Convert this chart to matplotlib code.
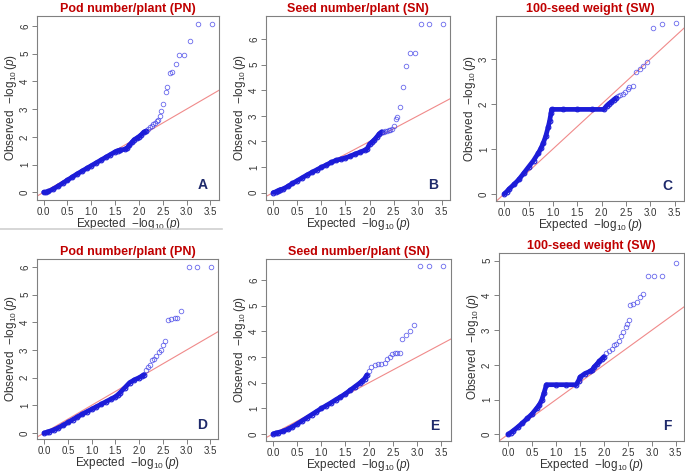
import matplotlib
matplotlib.use("Agg")
import matplotlib.pyplot as plt
from matplotlib.lines import Line2D

plt.rcParams["font.family"] = ["Liberation Sans", "DejaVu Sans"]
plt.rcParams["mathtext.fontset"] = "custom"
plt.rcParams["mathtext.rm"] = "Liberation Sans"
plt.rcParams["mathtext.it"] = "Liberation Sans:italic"

TITLE_COLOR = "#C00000"
LETTER_COLOR = "#1F2A6B"
POINT_COLOR = "#4444E8"
BODY_COLOR = "#1C1CD8"
LINE_COLOR = "#F08A8A"
AXIS_COLOR = "#808080"
TEXT_COLOR = "#333333"

titles = ["Pod number/plant (PN)", "Seed number/plant (SN)", "100-seed weight (SW)",
          "Pod number/plant (PN)", "Seed number/plant (SN)", "100-seed weight (SW)"]
letters = ["A", "B", "C", "D", "E", "F"]
x_ticks = [0.0, 0.5, 1.0, 1.5, 2.0, 2.5, 3.0, 3.5]
y_ticks = [range(0, 7), range(0, 7), range(0, 4), range(0, 7), range(0, 7), range(0, 6)]

# dense part of each QQ curve (expected, observed)
a_body_x = [0, 0.05, 0.1, 0.2, 0.3, 0.4, 0.5, 0.6, 0.7, 0.8, 0.9, 1.0, 1.1, 1.2, 1.3, 1.4, 1.5,
            1.55, 1.6, 1.7, 1.75, 1.8, 1.85, 1.9, 1.95, 2.0, 2.05, 2.1, 2.15]
a_body_y = [0, 0.0, 0.03, 0.12, 0.22, 0.33, 0.44, 0.55, 0.66, 0.76, 0.86, 0.96, 1.06, 1.16, 1.26,
            1.36, 1.46, 1.50, 1.52, 1.55, 1.60, 1.70, 1.80, 1.90, 1.95, 2.01, 2.08, 2.17, 2.21]
b_body_x = [0, 0.05, 0.1, 0.15, 0.2, 0.3, 0.4, 0.5, 0.6, 0.7, 0.8, 0.9, 1.0, 1.1, 1.2, 1.3, 1.4,
            1.5, 1.6, 1.7, 1.8, 1.9, 1.95, 2.0, 2.05, 2.1, 2.15, 2.2, 2.25]
b_body_y = [0, 0.03, 0.08, 0.12, 0.14, 0.24, 0.36, 0.47, 0.58, 0.69, 0.79, 0.89, 0.99, 1.08, 1.18,
            1.26, 1.31, 1.36, 1.43, 1.51, 1.58, 1.66, 1.72, 1.90, 1.98, 2.07, 2.18, 2.30, 2.38]
c_body_x = [0, 0.05, 0.1, 0.2, 0.3, 0.4, 0.5, 0.6, 0.7, 0.75, 0.8, 0.85, 0.9, 0.93, 0.96, 0.97,
            1.2, 1.5, 1.8, 2.04, 2.1, 2.15, 2.2, 2.25, 2.3]
c_body_y = [0, 0.05, 0.11, 0.21, 0.32, 0.46, 0.60, 0.74, 0.91, 1.01, 1.13, 1.28, 1.48, 1.62, 1.80,
            1.88, 1.88, 1.88, 1.88, 1.88, 1.96, 2.01, 2.05, 2.10, 2.14]
d_body_x = [0, 0.05, 0.1, 0.2, 0.3, 0.4, 0.5, 0.6, 0.7, 0.8, 0.9, 1.0, 1.1, 1.2, 1.3, 1.4, 1.5,
            1.55, 1.6, 1.7, 1.8, 1.9, 2.0, 2.05, 2.1]
d_body_y = [0, 0.02, 0.05, 0.11, 0.19, 0.28, 0.38, 0.48, 0.58, 0.68, 0.77, 0.86, 0.95, 1.04, 1.13,
            1.22, 1.31, 1.38, 1.46, 1.64, 1.82, 1.92, 2.00, 2.05, 2.11]
e_body_x = [0, 0.05, 0.1, 0.2, 0.3, 0.4, 0.5, 0.6, 0.7, 0.8, 0.9, 1.0, 1.1, 1.2, 1.3, 1.4, 1.5,
            1.6, 1.7, 1.8, 1.85, 1.9, 1.95]
e_body_y = [0, 0.03, 0.05, 0.10, 0.18, 0.28, 0.39, 0.51, 0.63, 0.75, 0.87, 0.99, 1.10, 1.21, 1.33,
            1.44, 1.56, 1.70, 1.84, 1.98, 2.06, 2.15, 2.30]
f_body_x = [0, 0.05, 0.1, 0.2, 0.3, 0.4, 0.5, 0.6, 0.65, 0.7, 0.75, 0.8, 1.0, 1.2, 1.42, 1.47,
            1.5, 1.6, 1.7, 1.75, 1.8, 1.85, 1.9, 1.95, 2.0]
f_body_y = [0, 0.05, 0.10, 0.21, 0.33, 0.46, 0.59, 0.76, 0.85, 0.98, 1.20, 1.43, 1.43, 1.43, 1.43,
            1.55, 1.65, 1.75, 1.81, 1.85, 1.95, 2.02, 2.10, 2.17, 2.24]

# sparse upper tail (expected, observed)
a_tail_x = [3.54, 3.24, 3.07, 2.94, 2.85, 2.77, 2.70, 2.65, 2.59, 2.56, 2.51, 2.47, 2.44, 2.41,
            2.38, 2.34, 2.30, 2.27, 2.23, 2.19]
a_tail_y = [6.07, 6.07, 5.47, 4.95, 4.95, 4.63, 4.34, 4.31, 3.80, 3.62, 3.20, 2.92, 2.75, 2.62,
            2.57, 2.50, 2.45, 2.39, 2.34, 2.27]
b_tail_x = [3.53, 3.23, 3.06, 2.94, 2.83, 2.76, 2.70, 2.63, 2.58, 2.55, 2.51, 2.47, 2.43, 2.40,
            2.36, 2.33, 2.29]
b_tail_y = [6.60, 6.60, 6.60, 5.48, 5.48, 4.97, 4.12, 3.35, 2.95, 2.87, 2.61, 2.48, 2.45, 2.43,
            2.42, 2.40, 2.39]
c_tail_x = [3.53, 3.23, 3.06, 2.94, 2.85, 2.78, 2.70, 2.64, 2.57, 2.53, 2.48, 2.44, 2.38, 2.34]
c_tail_y = [3.81, 3.78, 3.69, 2.93, 2.84, 2.79, 2.71, 2.39, 2.37, 2.33, 2.27, 2.23, 2.20, 2.17]
d_tail_x = [3.52, 3.22, 3.05, 2.89, 2.80, 2.75, 2.68, 2.61, 2.55, 2.50, 2.45, 2.41, 2.36, 2.32,
            2.28, 2.22, 2.18, 2.14]
d_tail_y = [6.01, 6.01, 6.01, 4.42, 4.14, 4.14, 4.12, 4.08, 3.31, 3.18, 3.01, 2.92, 2.77, 2.66,
            2.62, 2.46, 2.38, 2.28]
e_tail_x = [3.54, 3.24, 3.05, 2.94, 2.85, 2.76, 2.69, 2.64, 2.58, 2.53, 2.48, 2.43, 2.37, 2.32,
            2.25, 2.18, 2.11, 2.04, 1.99]
e_tail_y = [6.53, 6.53, 6.53, 4.26, 4.00, 3.85, 3.68, 3.17, 3.17, 3.17, 3.10, 3.00, 2.91, 2.78,
            2.74, 2.72, 2.68, 2.59, 2.45]
f_tail_x = [3.51, 3.22, 3.04, 2.92, 2.82, 2.75, 2.68, 2.60, 2.55, 2.52, 2.48, 2.45, 2.40, 2.36,
            2.31, 2.26, 2.21, 2.16, 2.10, 2.05]
f_tail_y = [4.92, 4.56, 4.56, 4.56, 4.04, 3.96, 3.82, 3.75, 3.73, 3.28, 3.18, 3.09, 2.94, 2.82,
            2.70, 2.61, 2.56, 2.47, 2.40, 2.34]

body_x = [a_body_x, b_body_x, c_body_x, d_body_x, e_body_x, f_body_x]
body_y = [a_body_y, b_body_y, c_body_y, d_body_y, e_body_y, f_body_y]
tail_x = [a_tail_x, b_tail_x, c_tail_x, d_tail_x, e_tail_x, f_tail_x]
tail_y = [a_tail_y, b_tail_y, c_tail_y, d_tail_y, e_tail_y, f_tail_y]

# axes boxes in pixels: left, top, right, bottom
BOXES = [(37, 16, 219, 200), (266, 16, 450, 200), (496, 16, 684, 201),
         (37, 259, 218, 439), (266, 259, 451, 441), (499, 253, 684, 441)]
XLIMS = [(-0.14, 3.68), (-0.15, 3.67), (-0.17, 3.69), (-0.15, 3.66), (-0.15, 3.70), (-0.19, 3.67)]
YLIMS = [(-0.28, 6.36), (-0.29, 6.91), (-0.16, 3.96), (-0.22, 6.29), (-0.28, 6.82), (-0.19, 5.22)]

W, H = 685, 473


def plot_panel(fig, i):
    left, top, right, bottom = BOXES[i]
    ax = fig.add_axes([left / W, 1 - bottom / H, (right - left) / W, (bottom - top) / H])

    ax.axline((0, 0), slope=1, color=LINE_COLOR, lw=0.8, zorder=1)
    ax.plot(body_x[i], body_y[i], color=BODY_COLOR, lw=3.4, solid_capstyle="round", zorder=2)
    ax.plot(body_x[i], body_y[i], ls="none", marker="o", ms=3.4, mfc="none", mec=BODY_COLOR,
            mew=0.8, zorder=3)
    ax.plot(tail_x[i], tail_y[i], ls="none", marker="o", ms=3.3, mfc="none", mec=POINT_COLOR,
            mew=0.6, alpha=0.8, zorder=3)

    ax.set_xlim(*XLIMS[i])
    ax.set_ylim(*YLIMS[i])
    ax.set_xticks(x_ticks)
    ax.set_xticklabels([f"{t:.1f}" for t in x_ticks])
    ax.set_yticks(list(y_ticks[i]))
    ax.tick_params(axis="both", direction="out", length=3.5, width=0.7, color=AXIS_COLOR,
                   labelsize=7, labelcolor=TEXT_COLOR, pad=1.5)
    for lab in ax.get_yticklabels():
        lab.set_rotation(90)
        lab.set_va("center")
    for spine in ax.spines.values():
        spine.set_color(AXIS_COLOR)
        spine.set_linewidth(0.8)

    ax.set_xlabel(r"Expected  $-\log_{10}(p)$", fontsize=8.5, color=TEXT_COLOR, labelpad=-1)
    ax.set_ylabel(r"Observed  $-\log_{10}(p)$", fontsize=8.5, color=TEXT_COLOR, labelpad=1)
    ax.set_title(titles[i], fontsize=9, fontweight="bold", color=TITLE_COLOR, pad=3)
    ax.text(0.91, 0.08, letters[i], transform=ax.transAxes, fontsize=10, fontweight="bold",
            color=LETTER_COLOR, ha="center", va="center")
    return ax


def main():
    fig = plt.figure(figsize=(W / 100, H / 100), dpi=100)
    for i in range(6):
        plot_panel(fig, i)
    fig.add_artist(Line2D([0, 222 / W], [1 - 229 / H, 1 - 229 / H], color="#D0D0D0", lw=1.2))
    fig.savefig("out.png", dpi=100)
    plt.close(fig)


if __name__ == "__main__":
    main()
